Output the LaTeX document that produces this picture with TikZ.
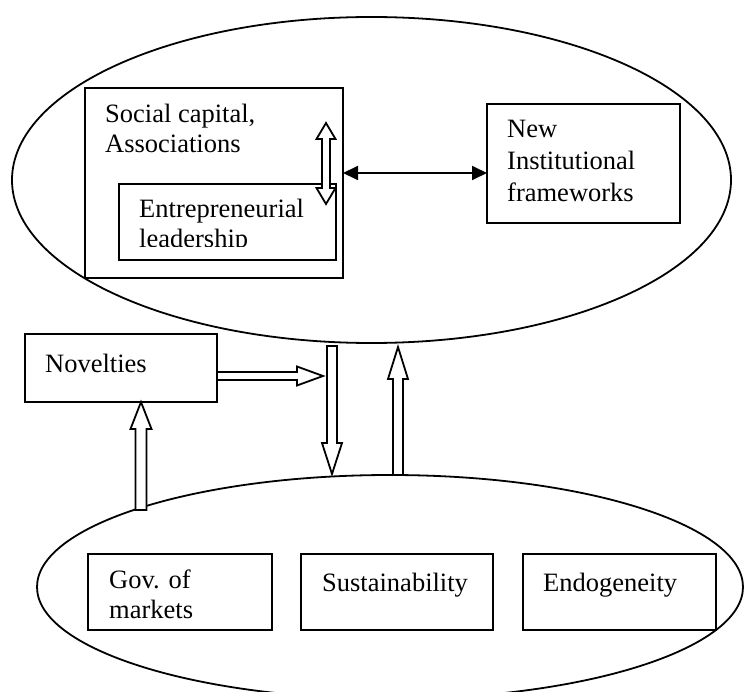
\documentclass[tikz,border=0pt]{standalone}
\usepackage{fontspec}
\setmainfont{Liberation Serif}
\usetikzlibrary{arrows.meta,shapes.geometric,calc}
\tikzset{
  oval/.style   = {draw,ellipse,line width=1.8pt,inner sep=0pt,outer sep=0pt},
  box/.style    = {draw,fill=white,line width=1.8pt,inner sep=0pt,outer sep=0pt,
                   anchor=north west},
  lbl/.style    = {anchor=north west,inner sep=0pt,align=left,
                   font=\fontsize{26.5}{30}\selectfont},
  link/.style   = {{Triangle[length=15pt,width=14pt]}-{Triangle[length=15pt,width=14pt]},
                   line width=1.8pt},
  hollow/.style = {draw,fill=white,line width=1.8pt,line join=miter},
}
% block arrow: from, to, head length, head half width, shaft half width
\newcommand{\hollowarrow}[5]{%
  \coordinate (hshoulder) at ($(#2)!#3!(#1)$);
  \draw[hollow] ($(#1)!#5!90:(#2)$) -- ($(hshoulder)!#5!90:(#2)$)
    -- ($(hshoulder)!#4!90:(#2)$) -- (#2) -- ($(hshoulder)!#4!-90:(#2)$)
    -- ($(hshoulder)!#5!-90:(#2)$) -- ($(#1)!#5!-90:(#2)$) -- cycle;}
\newcommand{\hollowdarrow}[5]{%
  \coordinate (hshA) at ($(#1)!#3!(#2)$);
  \coordinate (hshB) at ($(#2)!#3!(#1)$);
  \draw[hollow] (#1) -- ($(hshA)!#4!90:(#2)$) -- ($(hshA)!#5!90:(#2)$)
    -- ($(hshB)!#5!90:(#2)$) -- ($(hshB)!#4!90:(#2)$) -- (#2)
    -- ($(hshB)!#4!-90:(#2)$) -- ($(hshB)!#5!-90:(#2)$)
    -- ($(hshA)!#5!-90:(#2)$) -- ($(hshA)!#4!-90:(#2)$) -- cycle;}

\begin{document}
\begin{tikzpicture}[x=1pt,y=-1pt]
  \useasboundingbox (0,0) rectangle (744,692);
  \node[oval,minimum width=719pt,minimum height=326pt] (upper) at (371.5,180) {};
  \node[oval,minimum width=706pt,minimum height=224pt] (lower) at (390,587) {};

  % upper group
  \node[box,minimum width=258pt,minimum height=190pt] (social) at (85,88) {};
  \node[lbl] (socialtxt) at (105,104) {Social capital,\\Associations};
  \node[box,minimum width=217pt,minimum height=76pt] (entre) at (119,184) {};
  \begin{scope}
    \clip (entre.north west) rectangle ($(entre.south east)+(0,-13)$);
    \node[lbl] (entretxt) at (139,199) {Entrepreneurial\\leadership};
  \end{scope}
  \node[box,minimum width=193pt,minimum height=119pt] (newinst) at (487,104) {};
  \node[lbl,font=\fontsize{26.5}{32}\selectfont] (newtxt) at (507,119.5)
       {New\\Institutional\\frameworks};
  \coordinate (lnk) at (0,173);
  \draw[link] (social.east |- lnk) -- (newinst.west |- lnk);
  \coordinate (pairtop) at (326,123);
  \coordinate (pairbot) at (326,204);
  \hollowdarrow{pairtop}{pairbot}{16pt}{9.5pt}{4pt}

  % novelties
  \node[box,minimum width=192pt,minimum height=68pt] (nov) at (25,334) {};
  \node[lbl] (novtxt) at (45,354) {Novelties};

  % lower group
  \node[box,minimum width=184pt,minimum height=76pt] (gov) at (88,554) {};
  \node[lbl] (govtxt) at (109,570) {Gov. of\\markets};
  \node[box,minimum width=192pt,minimum height=76pt] (sust) at (301,554) {};
  \node[lbl] (susttxt) at (322,573) {Sustainability};
  \node[box,minimum width=193pt,minimum height=76pt] (endo) at (523,554) {};
  \node[lbl] (endotxt) at (543,573) {Endogeneity};

  % block arrows
  \coordinate (novout) at (nov.east |- 0,376);
  \coordinate (novtip) at (323,376);
  \hollowarrow{novout}{novtip}{26pt}{9.5pt}{4pt}
  \coordinate (govup) at (141,510);
  \coordinate (novin) at (nov.south -| 141,0);
  \hollowarrow{govup}{novin}{27pt}{10.5pt}{5.5pt}
  \coordinate (dnA) at (332,346);
  \coordinate (dnB) at (332,474);
  \hollowarrow{dnA}{dnB}{31pt}{10pt}{5pt}
  \coordinate (upA) at (398,475);
  \coordinate (upB) at (398,347);
  \hollowarrow{upA}{upB}{32pt}{10pt}{5pt}
\end{tikzpicture}
\end{document}
